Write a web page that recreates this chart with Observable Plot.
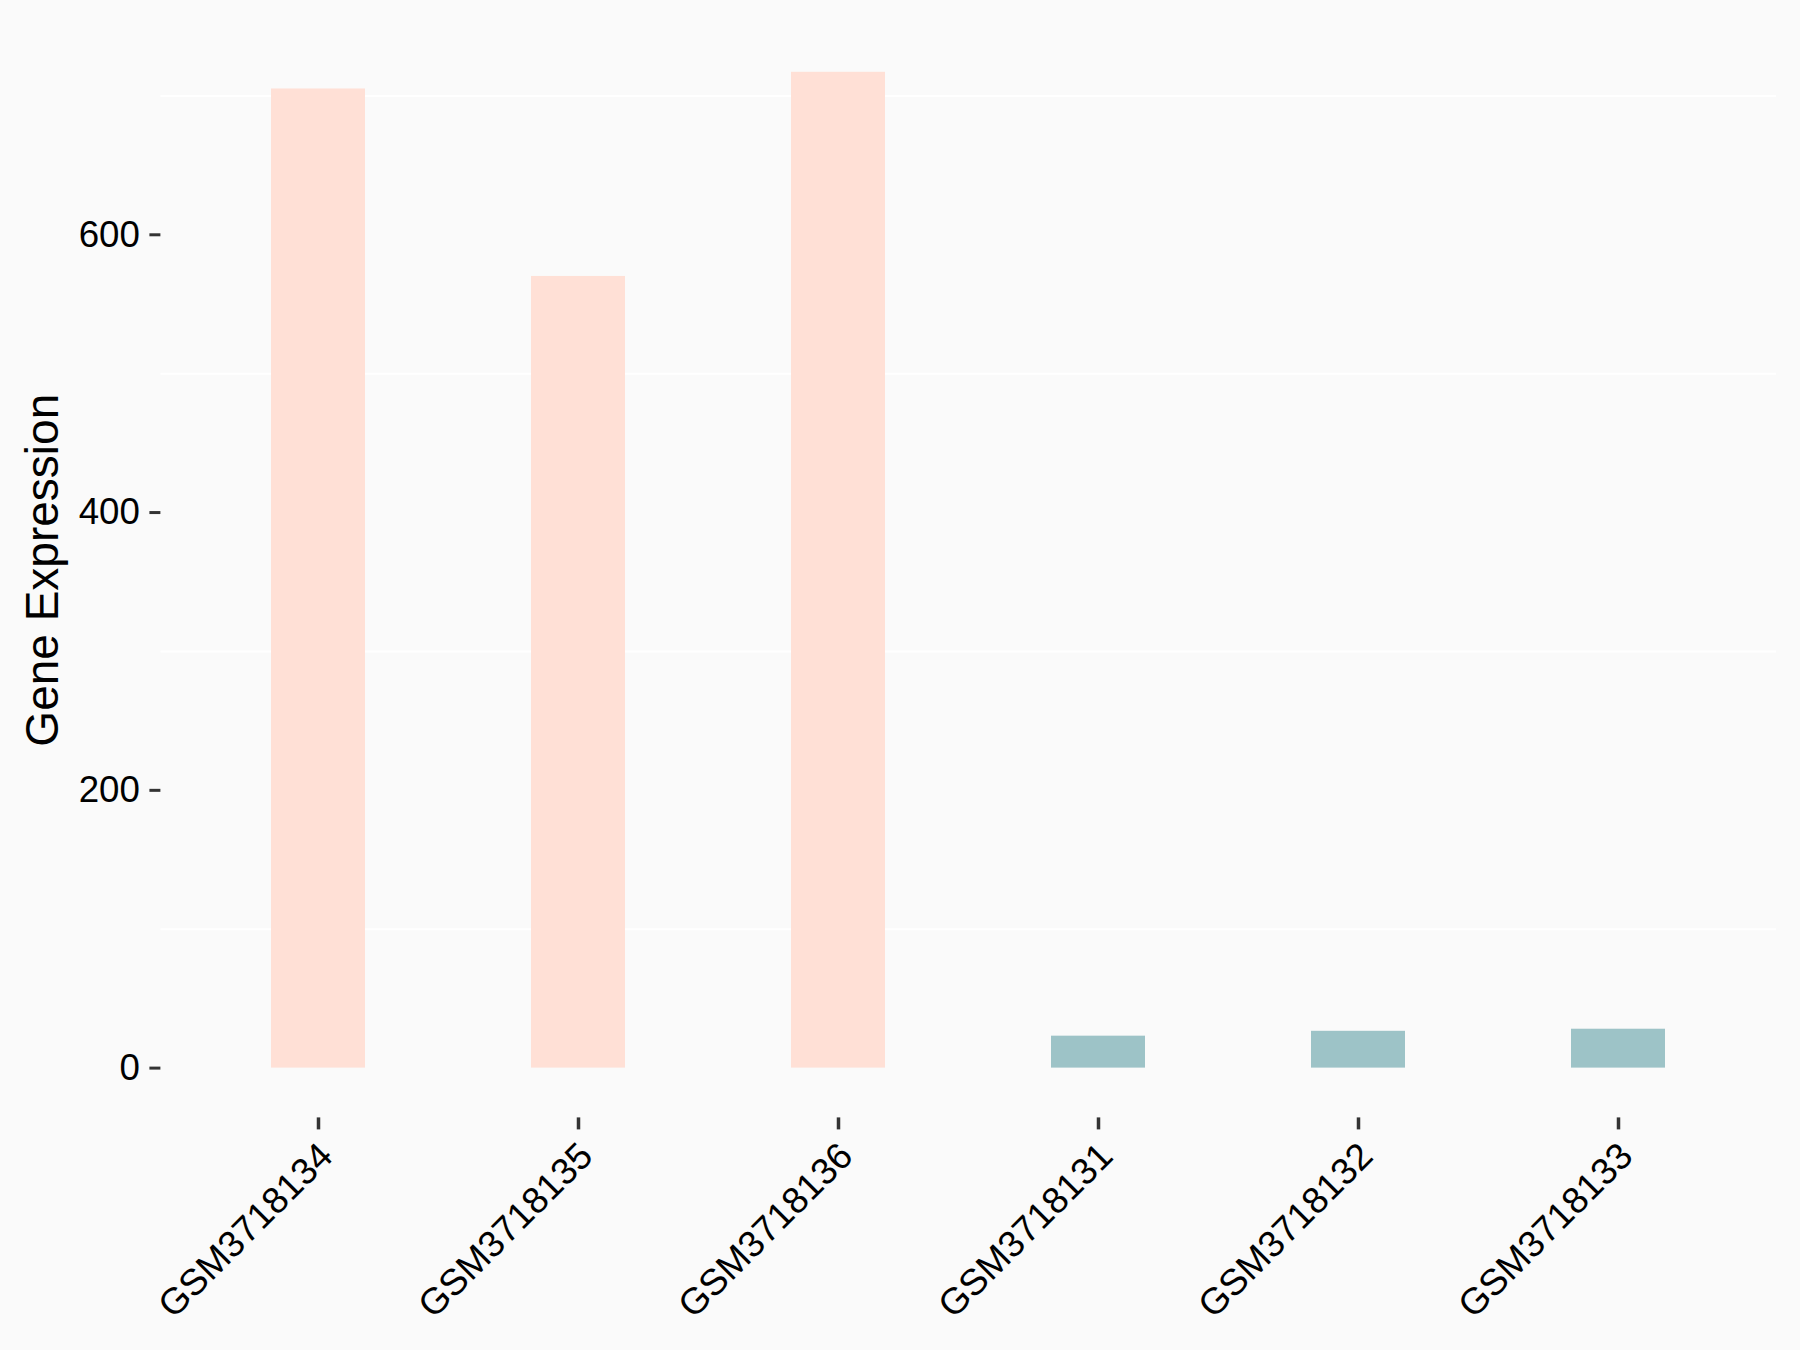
<!DOCTYPE html>
<html>
<head>
<meta charset="utf-8">
<script src="https://cdn.jsdelivr.net/npm/d3@7"></script>
<script src="https://cdn.jsdelivr.net/npm/@observablehq/plot@0.6"></script>
<style>
  html, body { margin: 0; padding: 0; background: #FAFAFA; }
  #chart svg { display: block; }
</style>
</head>
<body>
<div id="chart"></div>
<script>
// ---- data ----
const samples = ["GSM3718134", "GSM3718135", "GSM3718136", "GSM3718131", "GSM3718132", "GSM3718133"];
const values = [705, 570, 717, 23, 26.5, 28];
const groups = ["high", "high", "high", "low", "low", "low"];
const groupNames = ["high", "low"];
const groupColors = ["#FFE0D6", "#9DC3C7"];
const yTicks = [0, 200, 400, 600];
const yGridMinor = [100, 300, 500, 700];
const yLabel = "Gene Expression";

const data = samples.map((s, i) => ({sample: s, value: values[i], group: groups[i]}));

// ggplot-like 5% expansion of the value range (0..max)
const vmax = d3.max(values);
const pad = 0.05 * vmax;
const yDomain = [0 - pad, vmax + pad];

const chart = Plot.plot({
  width: 1800,
  height: 1350,
  marginLeft: 160.4,
  marginRight: 24,
  marginTop: 22,
  marginBottom: 232.6,
  style: {background: "#FAFAFA", fontFamily: "'Liberation Sans', Arial, sans-serif", color: "black", overflow: "visible"},
  x: {domain: samples, paddingInner: 0.64, paddingOuter: 0.42, align: 0.5},
  y: {domain: yDomain},
  color: {domain: groupNames, range: groupColors},
  marks: [
    Plot.ruleY(yGridMinor, {stroke: "white", strokeWidth: 2}),
    Plot.barY(data, {x: "sample", y: "value", fill: "group"}),
    Plot.axisY({ticks: yTicks, tickSize: 11, tickPadding: 10, fontSize: 36.7, stroke: "#333333", strokeWidth: 3, fill: "black", label: null}),
    // x ticks only
    Plot.axisX({tickSize: 12, tickFormat: () => "", stroke: "#333333", strokeWidth: 3.5, label: null}),
    // x tick labels, rotated
    Plot.axisX({tickSize: 0, tickPadding: 32, dx: 8, tickRotate: -45, fontSize: 37, fill: "black", label: null}),
    Plot.text([yLabel], {frameAnchor: "left", dx: -118, rotate: -90, textAnchor: "middle", lineAnchor: "middle", fontSize: 46, fill: "black"})
  ]
});

document.getElementById("chart").appendChild(chart);
</script>
</body>
</html>
